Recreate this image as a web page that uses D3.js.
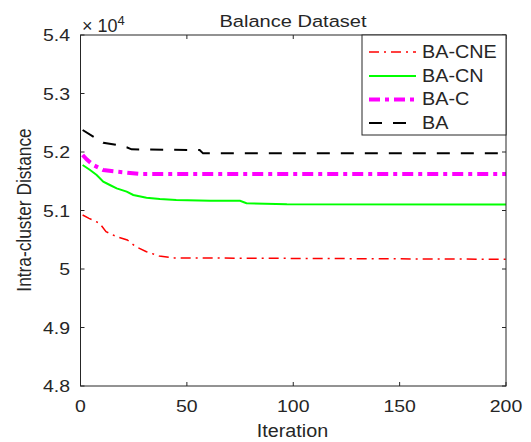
<!DOCTYPE html>
<html><head><meta charset="utf-8">
<script src="https://cdn.jsdelivr.net/npm/d3@7"></script>
<style>body{margin:0;background:#fff}svg{display:block}text{font-family:"Liberation Sans",Arial,sans-serif;fill:#262626}</style>
</head><body>
<svg id="c" width="531" height="442"></svg>
<script>
const seriesNames = ["BA-CNE", "BA-CN", "BA-C", "BA"];
const xTicks = [0, 50, 100, 150, 200];
const yTicks = [48000, 49000, 50000, 51000, 52000, 53000, 54000];
const yTickLabels = ["4.8", "4.9", "5", "5.1", "5.2", "5.3", "5.4"];

const iterCNE = [1, 4, 9, 12, 17, 22, 26, 31, 37, 44, 200];
const valCNE  = [50923, 50866, 50781, 50638, 50552, 50496, 50382, 50296, 50222, 50190, 50166];

const iterCN = [1, 4.5, 7.6, 10.7, 13.8, 17, 21.7, 24.8, 31, 37.3, 45, 61, 75, 78, 97, 200];
const valCN  = [51778, 51692, 51607, 51493, 51436, 51379, 51322, 51265, 51219, 51197, 51180, 51168, 51165, 51123, 51106, 51104];

const iterC = [1, 3, 6, 10.7, 17, 21.7, 28, 200];
const valC  = [51949, 51870, 51778, 51692, 51665, 51648, 51624, 51624];

const iterBA = [1, 6, 10.7, 17, 21.7, 24, 56, 57.6, 200];
const valBA  = [52376, 52262, 52159, 52120, 52080, 52046, 52034, 51977, 51977];

const colors = ["#ff0000", "#00ff00", "#ff00ff", "#000000"];
const widths = [1.5, 2, 4, 2];
const dashes = ["10,5,2,5", null, "11,5,4,5", "13,11"];

const svg = d3.select("#c");
const L = 80.5, R = 506, T = 35, B = 386;
const x = d3.scaleLinear().domain([0, 200]).range([L, R]);
const y = d3.scaleLinear().domain([48000, 54000]).range([B, T]);
const axColor = "#262626";

function txt(px, py, s, size, sx, anchor, rot) {
  return svg.append("text")
    .attr("transform", `translate(${px},${py})` + (rot ? ` rotate(${rot})` : "") + ` scale(${sx},1)`)
    .attr("text-anchor", anchor || "start").attr("font-size", size).text(s);
}

svg.append("rect").attr("x", L).attr("y", T).attr("width", R - L).attr("height", B - T)
  .attr("fill", "#fff");

const series = [
  {it: iterCNE, v: valCNE},
  {it: iterCN, v: valCN},
  {it: iterC, v: valC},
  {it: iterBA, v: valBA}
];
const line = d3.line().x(d => x(d[0])).y(d => y(d[1]));
[3, 2, 1, 0].forEach(i => {
  const s = series[i];
  svg.append("path").datum(s.it.map((t, k) => [t, s.v[k]]))
    .attr("d", line).attr("fill", "none").attr("stroke", colors[i])
    .attr("stroke-width", widths[i]).attr("stroke-dasharray", dashes[i]);
});

const tl = 4;
const g = svg.append("g").attr("stroke", axColor).attr("stroke-width", 1);
xTicks.forEach(t => {
  g.append("line").attr("x1", x(t)).attr("x2", x(t)).attr("y1", B).attr("y2", B - tl);
  g.append("line").attr("x1", x(t)).attr("x2", x(t)).attr("y1", T).attr("y2", T + tl);
});
yTicks.forEach(t => {
  g.append("line").attr("x1", L).attr("x2", L + tl).attr("y1", y(t)).attr("y2", y(t));
  g.append("line").attr("x1", R).attr("x2", R - tl).attr("y1", y(t)).attr("y2", y(t));
});
svg.append("rect").attr("x", L).attr("y", T).attr("width", R - L).attr("height", B - T)
  .attr("fill", "none").attr("stroke", axColor).attr("stroke-width", 1);

xTicks.forEach(t => txt(x(t), 412, t, 16.5, 1.18, "middle"));
yTicks.forEach((t, i) => txt(70, y(t) + 6, yTickLabels[i], 16.5, 1.18, "end"));

// exponent
const ex = svg.append("text").attr("transform", "translate(82,31.5)").attr("font-size", 18);
ex.append("tspan").text("\u00d7 10");
ex.append("tspan").attr("dy", -7).attr("font-size", 13).text("4");

txt(293, 27, "Balance Dataset", 17, 1.18, "middle");
txt(292.5, 437, "Iteration", 17.5, 1.13, "middle");
svg.append("text").attr("transform", "translate(31,210) rotate(-90) scale(1,1.17)")
  .attr("text-anchor", "middle").attr("font-size", 17.3).text("Intra-cluster Distance");

// legend
const lg = svg.append("g");
lg.append("rect").attr("x", 362).attr("y", 35).attr("width", 144).attr("height", 100)
  .attr("fill", "#fff").attr("stroke", axColor).attr("stroke-width", 1);
const ly = [52, 76, 99.5, 123];
seriesNames.forEach((n, i) => {
  lg.append("line").attr("x1", 369).attr("x2", 416).attr("y1", ly[i]).attr("y2", ly[i])
    .attr("stroke", colors[i]).attr("stroke-width", widths[i]).attr("stroke-dasharray", dashes[i]);
  lg.append("text").attr("transform", `translate(422,${ly[i] + 5.5}) scale(1.1,1)`)
    .attr("font-size", 18).text(n);
});
</script>
</body></html>
